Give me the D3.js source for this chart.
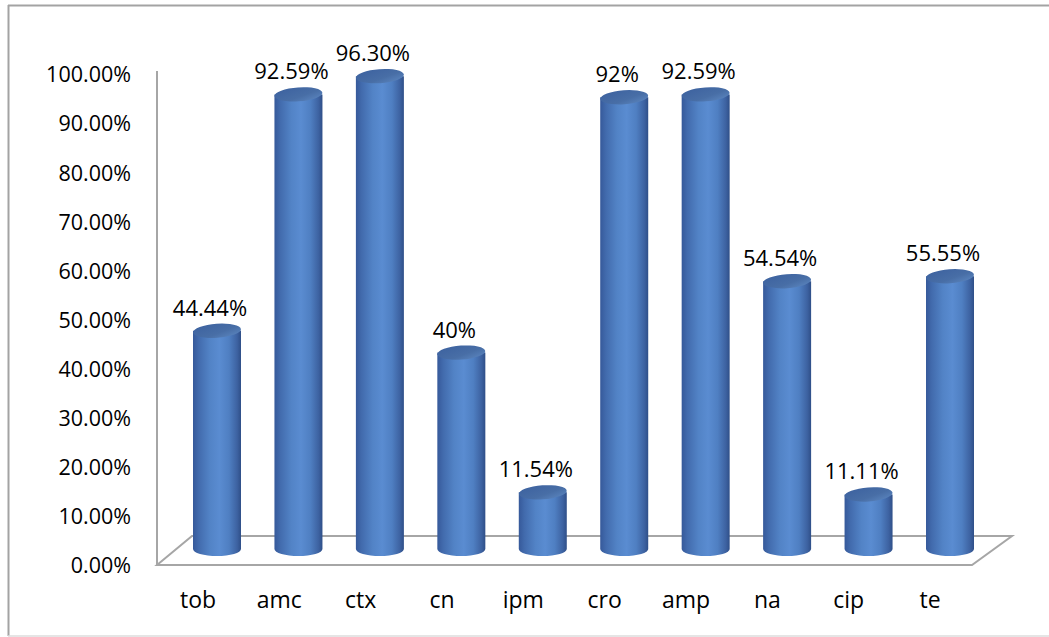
<!DOCTYPE html>
<html>
<head>
<meta charset="utf-8">
<script src="https://cdn.jsdelivr.net/npm/d3@7"></script>
<style>
  html, body { margin: 0; padding: 0; background: #fff; }
  svg { display: block; }
  text { font-family: "Open Sans", "Liberation Sans", sans-serif; fill: #000; }
</style>
</head>
<body>
<svg id="chart" width="1049" height="637"></svg>
<script>
// Categories and their percentages
const categories = ["tob", "amc", "ctx", "cn", "ipm", "cro", "amp", "na", "cip", "te"];
const values = [0.4444, 0.9259, 0.9630, 0.40, 0.1154, 0.92, 0.9259, 0.5454, 0.1111, 0.5555];
const valueLabels = ["44.44%", "92.59%", "96.30%", "40%", "11.54%", "92%", "92.59%", "54.54%", "11.11%", "55.55%"];
const yTicks = [0, 0.1, 0.2, 0.3, 0.4, 0.5, 0.6, 0.7, 0.8, 0.9, 1.0];

const svg = d3.select("#chart");

// Outer frame
svg.append("line").attr("x1", 8.5).attr("y1", 5).attr("x2", 8.5).attr("y2", 636)
  .attr("stroke", "#a3a3a3").attr("stroke-width", 2);
svg.append("line").attr("x1", 8).attr("y1", 5.5).attr("x2", 1049).attr("y2", 5.5)
  .attr("stroke", "#a3a3a3").attr("stroke-width", 2);
svg.append("line").attr("x1", 8).attr("y1", 636).attr("x2", 1049).attr("y2", 636)
  .attr("stroke", "#dcdcdc").attr("stroke-width", 1.5);

// Scales: front plane for the axis, mid-depth plane for the columns
const yFront = d3.scaleLinear().domain([0, 1]).range([566, 75]);
const yBar = d3.scaleLinear().domain([0, 1]).range([549, 58]);
const xBar = d3.scalePoint().domain(categories).range([217, 950]);
const xLabel = d3.scalePoint().domain(categories).range([198, 930]);

// Floor and left wall edge
const floorColor = "#a6a6a6";
svg.append("path")
  .attr("d", "M157,565 L192,536 L1012,536 L972,565 Z")
  .attr("fill", "none").attr("stroke", floorColor).attr("stroke-width", 2);
svg.append("line").attr("x1", 157).attr("y1", 71).attr("x2", 157).attr("y2", 565)
  .attr("stroke", floorColor).attr("stroke-width", 2);

// Y axis labels
const yAxis = d3.axisLeft(yFront).tickValues(yTicks).tickFormat(d3.format(".2%"))
  .tickSize(0).tickPadding(26);
const gy = svg.append("g").attr("transform", "translate(157,0)").call(yAxis);
gy.select(".domain").remove();
gy.selectAll("text").style("font-size", "21.5px").attr("fill", "#000")
  .style("font-family", "\"Open Sans\", sans-serif");

// Gradients for the cylinders
const defs = svg.append("defs");
const bodyGrad = defs.append("linearGradient").attr("id", "cylBody")
  .attr("x1", "0%").attr("x2", "100%").attr("y1", "0%").attr("y2", "0%");
[["0%", "#36599a"], ["12%", "#426bad"], ["35%", "#5283c6"], ["55%", "#5a8cd1"],
 ["75%", "#4f7fc2"], ["92%", "#3d62a1"], ["100%", "#2f4f88"]]
  .forEach(([o, c]) => bodyGrad.append("stop").attr("offset", o).attr("stop-color", c));
const capGrad = defs.append("linearGradient").attr("id", "cylTop")
  .attr("x1", "0%").attr("x2", "100%").attr("y1", "0%").attr("y2", "100%");
[["0%", "#3c619f"], ["60%", "#486ea6"], ["100%", "#5d88c2"]]
  .forEach(([o, c]) => capGrad.append("stop").attr("offset", o).attr("stop-color", c));

const rx = 24, ry = 7;
const base = yBar(0);

const bars = svg.append("g").selectAll("g.bar")
  .data(categories.map((c, i) => ({ c, v: values[i], label: valueLabels[i] })))
  .join("g").attr("class", "bar");

bars.append("path")
  .attr("d", d => {
    const x = xBar(d.c), yt = yBar(d.v);
    return `M${x - rx},${yt} L${x - rx},${base} A${rx},${ry} 0 0 0 ${x + rx},${base} L${x + rx},${yt} Z`;
  })
  .attr("fill", "url(#cylBody)");

bars.append("ellipse")
  .attr("cx", d => xBar(d.c)).attr("cy", d => yBar(d.v))
  .attr("rx", rx).attr("ry", ry)
  .attr("transform", d => `rotate(-4 ${xBar(d.c)} ${yBar(d.v)})`)
  .attr("fill", "url(#cylTop)");

// Value labels above the columns
bars.append("text")
  .attr("x", d => xBar(d.c) - 7)
  .attr("y", d => yBar(d.v) - 15)
  .attr("text-anchor", "middle")
  .style("font-size", "22px")
  .text(d => d.label);

// Category labels
svg.append("g").selectAll("text")
  .data(categories).join("text")
  .attr("x", d => xLabel(d)).attr("y", 608)
  .attr("text-anchor", "middle")
  .style("font-size", "23px")
  .text(d => d);
</script>
</body>
</html>
